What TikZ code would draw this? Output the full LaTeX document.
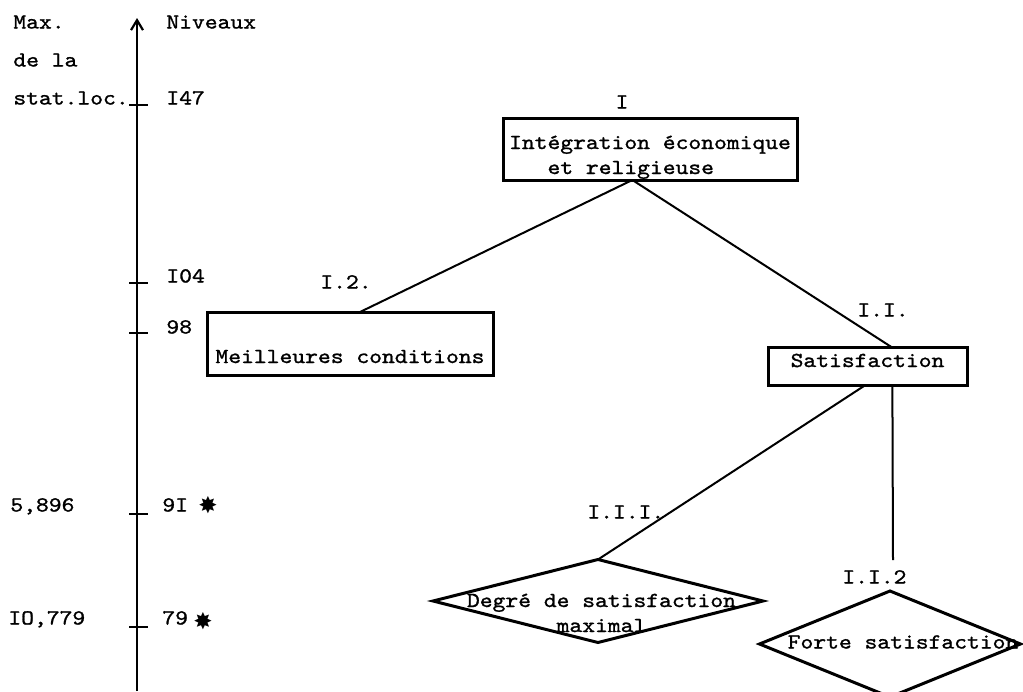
\documentclass[tikz,border=0pt]{standalone}
\usepackage{fontspec}
\usetikzlibrary{arrows.meta,shapes.geometric,calc}
\newfontfamily\tw{lmmono10-regular.otf}[FakeStretch=1.14,FakeBold=1.2]
\newfontfamily\dejavu{DejaVu Sans}
\begin{document}
\begin{tikzpicture}[x=0.5pt,y=-0.5pt,
  every node/.style={font=\tw\fontsize{10.7pt}{12.5pt}\selectfont},
  lab/.style={anchor=base west,inner sep=0},
  box/.style={draw,line width=1.5pt,rectangle,inner sep=0,outer sep=0},
  dia/.style={draw,line width=1.5pt,diamond,inner sep=0,outer sep=0},
  conn/.style={line width=1pt},
  tick/.style={line width=1.1pt},
  starmark/.style={font=\dejavu\fontsize{11.5pt}{11.5pt}\selectfont,inner sep=0}]
\useasboundingbox (0,0) rectangle (1023,691);
% axis
\coordinate (axbot) at (137,691);
\coordinate (axtop) at (137,18);
\draw[line width=1.2pt,-{Straight Barb[length=5pt,width=6pt,line width=1.1pt]}] (axbot) -- (axtop);
\foreach \yy in {105,283,333,514,627} {\draw[tick] (129,\yy) -- (148,\yy);}
% left labels
\node[lab] (max) at (13,28.5) {Max.};
\node[lab] (dela) at (13,66.5) {de la};
\node[lab] (statloc) at (13,104.5) {stat.loc.};
\node[lab] (v1) at (10,511.5) {5,896};
\node[lab] (v2) at (8,624.5) {IO,779};
% level labels
\node[lab] (niv) at (166,28.5) {Niveaux};
\node[lab] (l147) at (166,104.5) {I47};
\node[lab] (l104) at (166,282.5) {I04};
\node[lab] (l98) at (166,333.5) {98};
\node[lab] (l91) at (162,511.5) {9I};
\node[lab] (l79) at (162,624.5) {79};
\node[starmark] (s91) at (208,505) {✸};
\node[starmark] (s79) at (203,621) {✸};
% boxes
\node[box,minimum width=147pt,minimum height=31pt,align=left] (top) at (650,149)
  {\rule{0pt}{15.5pt}Intégration économique\\\phantom{xxx}et religieuse\rule[-3pt]{0pt}{3pt}};
\node[box,minimum width=143pt,minimum height=31.5pt,text height=25.5pt,text depth=6pt] (meil) at (350,343.5) {Meilleures conditions};
\node[box,minimum width=99.5pt,minimum height=19pt,text height=10pt,text depth=9pt] (sat) at (867.5,366) {Satisfaction};
% diamonds
\node[dia,minimum width=165pt,minimum height=41.5pt] (d1) at (598,601)
  {\smash{\makebox[0pt]{\hspace{3.5pt}\raisebox{-3pt}{\begin{tabular}[t]{@{}c@{}}Degré de satisfaction\\maximal\end{tabular}}}}};
\node[dia,minimum width=130.5pt,minimum height=53pt] (d2) at (890,644)
  {\smash{\makebox[0pt]{\hspace{13pt}\raisebox{-2.25pt}{Forte satisfaction}}}};
% tree labels
\node[anchor=base,inner sep=0] (lI) at (622,108.5) {I};
\node[lab] (lI2) at (320,288.5) {I.2.};
\node[lab] (lII) at (857,316.5) {I.I.};
\node[lab] (lIII) at (587,518.5) {I.I.I.};
\node[lab] (lII2) at (842,583.5) {I.I.2};
% connectors
\coordinate (topout) at ($(top.south west)!0.44!(top.south east)$);
\draw[conn] (topout) -- ($(meil.north west)!0.535!(meil.north east)$);
\draw[conn] (topout) -- ($(sat.north west)!0.62!(sat.north east)$);
\draw[conn] ($(sat.south west)!0.49!(sat.south east)$) -- (d1.north);
\coordinate (vend) at (893,560);
\draw[conn] ($(sat.south west)!0.625!(sat.south east)$) -- (vend);
\end{tikzpicture}
\end{document}
